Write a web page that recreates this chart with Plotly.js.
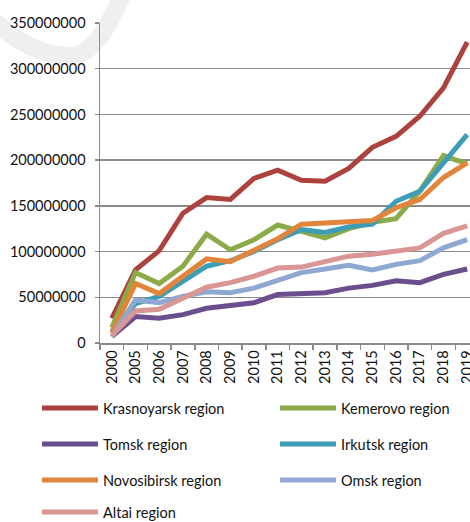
<!DOCTYPE html>
<html>
<head>
<meta charset="utf-8">
<script src="https://cdn.plot.ly/plotly-3.0.1.min.js"></script>
<style>
html, body { margin: 0; padding: 0; overflow: hidden; background: #fff; width: 470px; height: 522px; }
#wm { position: absolute; left: 0; top: 0; z-index: 0; }
#chart { position: absolute; left: 0; top: 0; z-index: 1; }
</style>
</head>
<body>
<svg id="wm" width="470" height="522"><path d="M -5 22 Q 35 58 74 56 Q 98 52 122 -4" fill="none" stroke="#efefef" stroke-width="18" stroke-linecap="round"/></svg>
<div id="chart"></div>
<script>
const years = ['2000','2005','2006','2007','2008','2009','2010','2011','2012','2013','2014','2015','2016','2017','2018','2019'];

const seriesNames = ['Krasnoyarsk region','Kemerovo region','Tomsk region','Irkutsk region','Novosibirsk region','Omsk region','Altai region'];

const krasnoyarsk = [27e6, 80e6, 101e6, 142e6, 159e6, 157e6, 180e6, 189e6, 178e6, 177e6, 191e6, 214e6, 226e6, 248e6, 279e6, 329e6];
const kemerovo    = [17e6, 77e6, 65e6, 84e6, 119e6, 102e6, 113e6, 129e6, 122e6, 115e6, 125e6, 132e6, 136e6, 166e6, 205e6, 196e6];
const tomsk       = [7e6, 29e6, 27e6, 31e6, 38e6, 41e6, 44e6, 53e6, 54e6, 55e6, 60e6, 63e6, 68e6, 66e6, 75e6, 81e6];
const irkutsk     = [13e6, 43e6, 51e6, 67e6, 84e6, 90e6, 100e6, 113e6, 124e6, 121e6, 127e6, 130e6, 155e6, 166e6, 197e6, 228e6];
const novosibirsk = [11e6, 65e6, 54e6, 73e6, 92e6, 89e6, 102e6, 114e6, 130e6, 131e6, 133e6, 134e6, 148e6, 157e6, 181e6, 197e6];
const omsk        = [7e6, 47e6, 44e6, 51e6, 56e6, 55e6, 60e6, 69e6, 77e6, 81e6, 85e6, 80e6, 86e6, 90e6, 104e6, 113e6];
const altai       = [8e6, 35e6, 37e6, 49e6, 61e6, 66e6, 73e6, 82e6, 83e6, 89e6, 95e6, 97e6, 101e6, 104e6, 120e6, 128e6];

const seriesValues = [krasnoyarsk, kemerovo, tomsk, irkutsk, novosibirsk, omsk, altai];
const colors = ['#AC413E', '#8BAB4A', '#6B4E8E', '#3D9CB6', '#E2853A', '#8EA8D2', '#D99694'];

const W = 480, H = 522;
const M = {l: 100, r: 1, t: 23, b: 179};
const pw = W - M.l - M.r, ph = H - M.t - M.b;
const fontFam = 'Lato, "Open Sans", sans-serif';
const txtColor = '#111111';

const traces = seriesValues.map((vals, i) => ({
  type: 'scatter', mode: 'lines', x: years, y: vals, name: seriesNames[i],
  line: {color: colors[i], width: 5, shape: 'linear'},
  hoverinfo: 'skip'
}));

// custom legend (two columns)
const shapes = [];
const annotations = [];
const colLineX = [42, 280];
const rowY = [408, 444, 480, 512];
seriesNames.forEach((nm, i) => {
  const col = i % 2, row = Math.floor(i / 2);
  const x0 = colLineX[col], x1 = x0 + 56, py = rowY[row];
  const toPX = px => (px - M.l) / pw;
  const toPY = py => (M.t + ph - py) / ph;
  shapes.push({type: 'line', xref: 'paper', yref: 'paper', x0: toPX(x0), x1: toPX(x1), y0: toPY(py), y1: toPY(py),
    line: {color: colors[i], width: 5}});
  annotations.push({xref: 'paper', yref: 'paper', x: toPX(x1 + 3), y: toPY(py), xanchor: 'left', yanchor: 'middle',
    text: nm, showarrow: false, font: {family: fontFam, size: 14.5, color: txtColor}});
});

const layout = {
  width: W, height: H,
  margin: M,
  paper_bgcolor: 'rgba(0,0,0,0)',
  plot_bgcolor: 'rgba(0,0,0,0)',
  showlegend: false,
  font: {family: fontFam, size: 14.5, color: txtColor},
  xaxis: {
    type: 'category', range: [-0.5, 15.5], tickangle: -90,
    showgrid: false, showline: true, linecolor: '#8a8a8a', linewidth: 1.5,
    ticks: 'outside', tickson: 'boundaries', ticklen: 5, tickcolor: '#8a8a8a', tickwidth: 1.5,
    tickfont: {family: fontFam, size: 14.5, color: txtColor}, zeroline: false
  },
  yaxis: {
    range: [0, 350e6], dtick: 50e6, tick0: 0, tickformat: 'd',
    showgrid: true, gridcolor: '#8a8a8a', gridwidth: 1.5,
    showline: true, linecolor: '#8a8a8a', linewidth: 1.5,
    ticks: 'outside', ticklen: 4, tickcolor: '#8a8a8a', tickwidth: 1.5,
    ticklabelstandoff: 6,
    zeroline: false,
    tickfont: {family: fontFam, size: 14.5, color: txtColor}
  },
  shapes: shapes,
  annotations: annotations
};

Plotly.newPlot('chart', traces, layout, {staticPlot: true, displayModeBar: false});
</script>
</body>
</html>
